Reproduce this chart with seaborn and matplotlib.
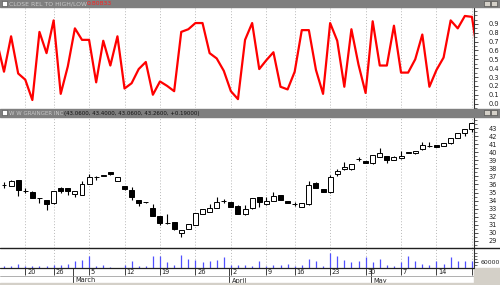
import numpy as np
import matplotlib
matplotlib.use("Agg")
import matplotlib.pyplot as plt
from matplotlib.patches import Rectangle
from matplotlib.lines import Line2D
from matplotlib import font_manager
import seaborn as sns

# ---------------- data ----------------
rel_days = list(range(-1, 68))
close_rel = [0.70,
             0.36, 0.76, 0.34, 0.27, 0.04, 0.81, 0.57, 0.94, 0.11, 0.42,
             0.85, 0.72, 0.72, 0.24, 0.71, 0.43, 0.76, 0.17, 0.23, 0.39,
             0.47, 0.10, 0.25, 0.20, 0.14, 0.81, 0.84, 0.91, 0.91, 0.57,
             0.51, 0.37, 0.14, 0.05, 0.72, 0.91, 0.39, 0.49, 0.58, 0.19,
             0.16, 0.36, 0.83, 0.83, 0.38, 0.11, 0.91, 0.71, 0.19, 0.84,
             0.44, 0.12, 0.93, 0.43, 0.43, 0.88, 0.35, 0.35, 0.50, 0.78,
             0.19, 0.38, 0.52, 0.94, 0.85, 0.99, 0.98, 0.45]

candle_days = list(range(0, 67))
opens = [35.93, 35.85, 36.56, 35.25, 35.10, 34.30, 34.08, 33.67, 35.60, 35.53,
         34.78, 34.70, 36.06, 36.90, 37.08, 37.50, 36.43, 35.81, 35.32, 34.08,
         33.82, 33.12, 32.13, 31.20, 31.31, 29.95, 30.49, 31.00, 32.34, 32.63,
         33.12, 33.97, 33.80, 33.38, 32.30, 33.05, 34.49, 33.55, 33.95, 34.70,
         33.95, 33.57, 33.25, 33.55, 36.22, 35.44, 35.03, 37.30, 37.88, 37.88,
         39.14, 38.91, 38.62, 39.44, 39.53, 39.03, 39.24, 39.90, 39.86, 40.36,
         40.83, 40.89, 40.81, 41.10, 41.72, 42.34, 42.88]
highs = [36.27, 36.50, 36.60, 35.60, 35.15, 34.32, 34.10, 35.25, 35.75, 35.55,
         35.25, 36.43, 37.26, 37.10, 37.15, 37.55, 36.95, 35.85, 35.73, 34.10,
         33.85, 33.55, 32.15, 32.30, 31.35, 30.40, 31.10, 32.45, 33.00, 33.58,
         34.50, 34.15, 33.85, 33.40, 33.46, 34.30, 34.50, 34.49, 35.03, 34.75,
         34.00, 33.80, 33.70, 36.43, 36.25, 35.45, 37.18, 37.90, 38.75, 38.55,
         39.35, 38.95, 39.70, 40.56, 39.55, 39.50, 40.15, 40.00, 40.20, 41.23,
         41.30, 40.90, 41.15, 41.75, 42.40, 42.90, 43.60]
lows = [35.60, 35.80, 34.60, 35.00, 34.30, 33.70, 32.85, 33.60, 35.00, 34.70,
        34.50, 34.70, 36.00, 36.60, 37.05, 37.20, 36.40, 35.30, 34.08, 33.38,
        33.75, 32.10, 31.00, 31.15, 30.40, 29.53, 30.45, 30.95, 32.30, 32.60,
        33.10, 33.75, 33.20, 32.30, 32.25, 33.00, 33.25, 33.50, 33.90, 34.05,
        33.65, 33.35, 33.20, 33.50, 35.55, 35.10, 35.00, 37.10, 37.85, 37.85,
        38.90, 38.65, 38.60, 39.40, 38.62, 39.00, 39.20, 39.88, 39.84, 40.30,
        40.60, 40.65, 40.80, 41.05, 41.70, 42.00, 42.55]
closes = [35.97, 36.43, 35.32, 35.20, 34.36, 34.28, 33.55, 35.20, 35.23, 35.20,
          35.20, 36.02, 36.89, 36.88, 37.12, 37.26, 36.89, 35.44, 34.41, 33.67,
          33.78, 32.13, 31.19, 31.18, 30.45, 30.36, 31.07, 32.43, 32.96, 33.12,
          33.80, 33.93, 33.25, 32.34, 32.96, 34.29, 33.80, 33.99, 34.57, 34.08,
          33.67, 33.53, 33.67, 35.94, 35.60, 35.11, 36.89, 37.67, 38.20, 38.50,
          39.10, 38.70, 39.65, 39.94, 39.03, 39.44, 39.53, 39.98, 40.15, 40.89,
          40.79, 40.68, 41.10, 41.72, 42.34, 42.84, 43.58]
volume = [17000, 23000, 43000, 17000, 23000, 17000, 23000, 33000, 33000, 43000,
          67000, 83000, 117000, 23000, 33000, 10000, 5000, 33000, 67000, 17000,
          23000, 117000, 123000, 57000, 33000, 127000, 90000, 77000, 57000, 67000,
          77000, 107000, 33000, 33000, 33000, 23000, 67000, 17000, 33000, 30000,
          43000, 17000, 33000, 90000, 67000, 17000, 150000, 117000, 83000, 60000,
          67000, 110000, 57000, 90000, 33000, 23000, 57000, 123000, 67000, 43000,
          33000, 73000, 43000, 107000, 73000, 67000, 73000]

week_ticks = [3, 7, 12, 17, 22, 27, 32, 37, 41, 46, 51, 56, 61, 66]
week_labels = ["20", "26", "5", "12", "19", "26", "2", "9", "16", "23", "30", "7", "14", "21"]
month_ticks = [10, 32, 52]
month_labels = ["March", "April", "May"]
rel_ticks = [0.0, 0.1, 0.2, 0.3, 0.4, 0.5, 0.6, 0.7, 0.8, 0.9]
price_ticks = list(range(29, 44))
vol_ticks = [60000]

rel_title = "CLOSE REL TO HIGH/LOW"
rel_value = "0.80833"
price_title = "W W GRAINGER INC"
price_value = "(43.0600, 43.4000, 43.0600, 43.2600, +0.19000)"

# ---------------- style ----------------
sns.set_style("white")
installed = {f.name for f in font_manager.fontManager.ttflist}
NARROW = "Liberation Sans Narrow" if "Liberation Sans Narrow" in installed else "DejaVu Sans"
plt.rcParams["font.family"] = ["DejaVu Sans"]
FS = 4.8
HDR = "#7f7f7f"
GRID = "#b8b8b8"

W, H = 500, 285
fig = plt.figure(figsize=(W / 100, H / 100), dpi=100)
fig.patch.set_facecolor("white")


def px_axes(x0, y0, x1, y1):
    return fig.add_axes([x0 / W, 1 - y1 / H, (x1 - x0) / W, (y1 - y0) / H])


def fig_rect(x0, y0, x1, y1, **kw):
    fig.patches.append(Rectangle((x0 / W, 1 - y1 / H), (x1 - x0) / W, (y1 - y0) / H,
                                 transform=fig.transFigure, **kw))


def fig_hline(y, x0, x1, **kw):
    fig.lines.append(Line2D([x0 / W, x1 / W], [1 - y / H, 1 - y / H],
                            transform=fig.transFigure, **kw))


XL = (-4 / 7.09, 470 / 7.09)
RIGHT = 474


def style_panel(ax):
    ax.set_xlim(*XL)
    ax.set_facecolor("white")
    ax.set_xticks(week_ticks)
    ax.tick_params(axis="x", length=0, labelbottom=False)
    ax.grid(axis="x", color=GRID, ls=(0, (1, 2)), lw=0.7)
    ax.grid(axis="y", visible=False)
    for s in ["top", "left", "bottom"]:
        ax.spines[s].set_visible(False)
    ax.spines["right"].set_color("#303030")
    ax.spines["right"].set_linewidth(0.8)
    ax.yaxis.tick_right()
    ax.tick_params(axis="y", which="major", length=3, width=0.6, color="#303030",
                   labelsize=FS, pad=7.5, labelcolor="#202020")
    ax.tick_params(axis="y", which="minor", length=2, width=0.5, color="#303030", right=True)
    for lab in ax.get_yticklabels():
        lab.set_family(NARROW)
    ax.set_xlabel("")
    ax.set_ylabel("")


# ---------------- top panel ----------------
fig_rect(0, 0, W, 7, color=HDR, zorder=0)
ax1 = px_axes(0, 8, RIGHT, 108)
sns.lineplot(x=rel_days, y=close_rel, ax=ax1, color="#ff0000", lw=1.6, legend=False)
ax1.set_ylim(-0.048, 1.08)
ax1.set_yticks(rel_ticks)
ax1.set_yticklabels([f"{v:.1f}" for v in rel_ticks])
ax1.set_yticks(np.arange(-0.05, 1.06, 0.05), minor=True)
style_panel(ax1)
ax1.set_xlim(*XL)

fig_rect(2, 1.5, 7, 5.5, facecolor="white", edgecolor="#404040", lw=0.4)
fig.text(9 / W, 1 - 3.6 / H, rel_title, fontsize=4.4, family=NARROW, color="#c8c8c8",
         va="center", ha="left")
fig.text(87 / W, 1 - 3.6 / H, rel_value, fontsize=4.4, family=NARROW, color="#ff2020",
         va="center", ha="left")
fig_rect(484, 1.5, 490, 6, facecolor="#d4d0c8", edgecolor="#404040", lw=0.4)
fig_rect(491, 1.5, 497, 6, facecolor="#d4d0c8", edgecolor="#404040", lw=0.4)

# ---------------- price panel ----------------
fig_rect(0, 109, W, 117, color=HDR, zorder=0)
ax2 = px_axes(0, 118, RIGHT, 248)
ax2.set_ylim(28.13, 44.24)
o = np.array(opens)
c = np.array(closes)
d = np.array(candle_days)
ax2.vlines(d, lows, highs, color="black", lw=0.8, zorder=2)
up = c >= o
body_lo = np.minimum(o, c)
body_h = np.maximum(np.abs(c - o), 0.02)
ax2.bar(d[up], body_h[up], bottom=body_lo[up], width=0.7, color="white",
        edgecolor="black", linewidth=0.7, zorder=3)
ax2.bar(d[~up], body_h[~up], bottom=body_lo[~up], width=0.7, color="black",
        edgecolor="black", linewidth=0.7, zorder=3)
ax2.set_yticks(price_ticks)
ax2.set_yticklabels([str(v) for v in price_ticks])
ax2.set_yticks(np.arange(28.5, 44.1, 0.5), minor=True)
style_panel(ax2)

fig_rect(2, 110.5, 7, 115.5, facecolor="white", edgecolor="#404040", lw=0.4)
fig.text(9 / W, 1 - 113.3 / H, price_title, fontsize=4.0, family=NARROW, color="#c8c8c8",
         va="center", ha="left")
fig.text(64 / W, 1 - 113.3 / H, price_value, fontsize=3.9, family=NARROW, color="#101010",
         va="center", ha="left")
fig_rect(484, 110.5, 490, 115.5, facecolor="#d4d0c8", edgecolor="#404040", lw=0.4)
fig_rect(491, 110.5, 497, 115.5, facecolor="#d4d0c8", edgecolor="#404040", lw=0.4)
fig_hline(248, 0, W, color="#202020", lw=1.0)

# ---------------- volume panel ----------------
ax3 = px_axes(0, 249, RIGHT, 268)
ax3.vlines(candle_days, 0, volume, color="#5050ff", lw=0.9)
ax3.set_ylim(0, 190000)
ax3.set_yticks(vol_ticks)
ax3.set_yticklabels([str(v) for v in vol_ticks])
ax3.set_yticks([30000, 90000, 120000, 150000], minor=True)
style_panel(ax3)
ax3.tick_params(axis="y", which="major", pad=1.5, labelsize=4.4)
fig_hline(268, 0, RIGHT, color="#202020", lw=0.9)

# ---------------- date axis ----------------
ax4 = px_axes(0, 268, RIGHT, 285)
ax4.set_xlim(*XL)
ax4.set_ylim(0, 17)
ax4.axis("off")
ax4.vlines(week_ticks, 10, 17, color="#202020", lw=0.6)
for t, lab in zip(week_ticks, week_labels):
    ax4.text(t + 0.25, 13.2, lab, fontsize=FS, color="#202020", va="center", ha="left",
             clip_on=True)
ax4.vlines([m - 0.2 for m in month_ticks], 0, 17, color="#202020", lw=0.6)
for m, lab in zip(month_ticks, month_labels):
    ax4.text(m + 0.1, 4.5, lab, fontsize=FS, color="#202020", va="center", ha="left")
ax4.axhline(9, color="#909090", lw=0.5)
fig_rect(RIGHT, 268, W, H, color="#d4d0c8", zorder=0)
fig_rect(0, 283, W, H, color="#d4d0c8", zorder=0)

fig.savefig("out.png", dpi=100, facecolor="white")
